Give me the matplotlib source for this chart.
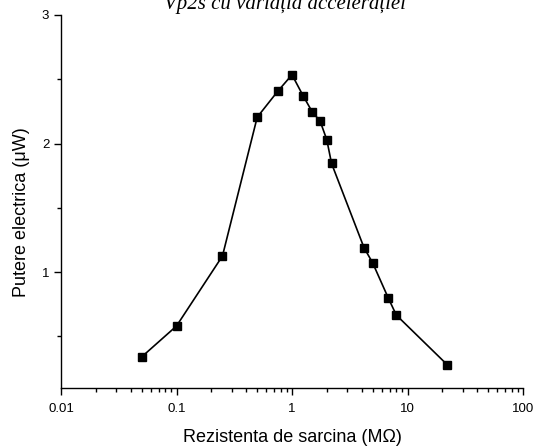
import matplotlib
matplotlib.use("Agg")
from matplotlib import pyplot as plt
from matplotlib.ticker import LogLocator, FixedLocator, FuncFormatter

# load resistance (MOhm) and electrical power (uW)
resistance = [0.05, 0.1, 0.25, 0.5, 0.75, 1.0, 1.25, 1.5, 1.75, 2.0, 2.2, 4.2, 5.0, 6.8, 8.0, 22.0]
power = [0.34, 0.58, 1.125, 2.205, 2.405, 2.535, 2.37, 2.245, 2.175, 2.03, 1.845, 1.19, 1.07, 0.80, 0.665, 0.28]

title = "Vp2s cu variația accelerației"
xlabel = "Rezistenta de sarcina (M\u03a9)"
ylabel = "Putere electrica (\u03bcW)"

plt.rcParams['font.family'] = ['Liberation Sans', 'DejaVu Sans']

figure = plt.figure(figsize=(5.38, 4.46), dpi=100)
axes = figure.add_axes([61 / 538, 1 - 387.7 / 446, 462 / 538, 372.7 / 446])

axes.plot(resistance, power, color='black', linewidth=1.2,
          marker='s', markersize=6, markerfacecolor='black', markeredgecolor='black')

axes.set_xscale('log')
axes.set_xlim(0.01, 100)
axes.set_ylim(0.1, 3)

axes.xaxis.set_major_locator(LogLocator(base=10, numticks=10))
axes.xaxis.set_minor_locator(LogLocator(base=10, subs=range(2, 10), numticks=20))
axes.xaxis.set_major_formatter(FuncFormatter(lambda v, p: f"{v:g}"))
axes.yaxis.set_major_locator(FixedLocator([1, 2, 3]))
axes.yaxis.set_minor_locator(FixedLocator([0.5, 1.5, 2.5]))

for side in ['top', 'right']:
    axes.spines[side].set_visible(False)
for side in ['left', 'bottom']:
    axes.spines[side].set_linewidth(1.0)

axes.tick_params(which='major', direction='out', length=5, width=1.0, labelsize=9.5)
axes.tick_params(which='minor', direction='out', length=3, width=1.0)
axes.tick_params(axis='x', which='major', pad=6)

axes.set_xlabel(xlabel, fontsize=13, labelpad=10)
axes.set_ylabel(ylabel, fontsize=13)
axes.yaxis.set_label_coords(-0.068, 0.47)

figure.text(0.53, 1 - 9 / 446, title, ha='center', va='baseline',
            fontsize=15, style='italic', family=['Liberation Serif', 'DejaVu Serif'])

plt.savefig('out.png', dpi=100)
